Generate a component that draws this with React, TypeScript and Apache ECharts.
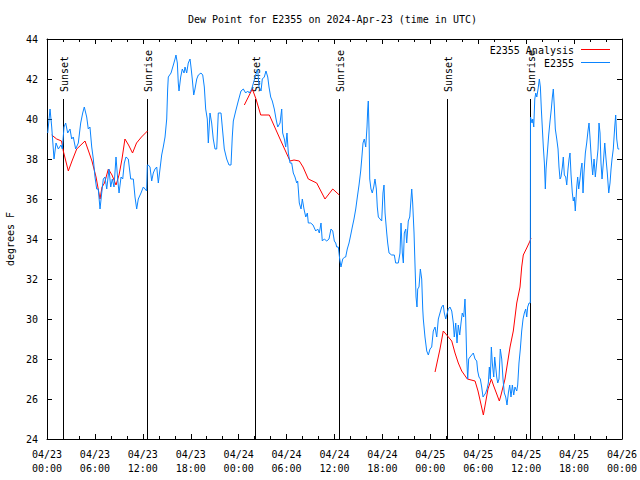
import React, { useEffect, useRef } from "react";
import * as echarts from "echarts";

const TITLE = "Dew Point for E2355 on 2024-Apr-23 (time in UTC)";
const Y_NAME = "degrees F";
const X_MIN = 0; // hours since 04/23 00:00 UTC
const X_MAX = 72;
const X_STEP = 6;
const Y_MIN = 24;
const Y_MAX = 44;
const Y_STEP = 2;

const sunHours = [2.04, 12.56, 26.08, 36.6, 50.1, 60.5];
const sunLabels = ["Sunset", "Sunrise", "Sunset", "Sunrise", "Sunset", "Sunrise"];
const sunLineTop = 41;

const analysisSeg1: [number, number][] = [
  [0.59, 39.2], [1.21, 39.0], [1.82, 38.9], [2.04, 38.4], [2.67, 37.4], [3.13, 37.9],
  [3.72, 38.5], [4.76, 38.9], [5.2, 38.4], [5.63, 37.9], [6.14, 37.1], [6.64, 36.0],
  [6.89, 36.6], [7.2, 36.8], [7.68, 37.5], [8.14, 37.2], [8.64, 36.7], [9.02, 37.2],
  [9.39, 38.0], [9.76, 39.0], [10.21, 38.7], [10.71, 38.3], [11.21, 38.8], [11.83, 39.1],
  [12.58, 39.4],
];
const analysisSeg2: [number, number][] = [
  [24.71, 40.7], [25.71, 41.5], [26.17, 41.0], [26.76, 40.2], [27.84, 40.2], [29.18, 39.0],
  [30.43, 37.9], [30.93, 37.95], [31.59, 37.9], [32.06, 37.6], [32.72, 37.0], [33.77, 36.8],
  [34.81, 36.0], [35.78, 36.5], [36.6, 36.2],
];
const analysisSeg3: [number, number][] = [
  [48.59, 27.35], [49.21, 28.5], [49.62, 29.4], [50.05, 29.2], [50.68, 28.9], [51.09, 28.3],
  [51.5, 27.8], [51.93, 27.4], [52.63, 27.0], [53.6, 26.9], [53.97, 26.4], [54.64, 25.2],
  [55.22, 26.5], [55.64, 27.0], [55.89, 26.7], [56.64, 25.9], [56.85, 26.2], [57.35, 27.0],
  [57.98, 28.6], [58.39, 29.4], [58.82, 30.8], [59.23, 31.6], [59.44, 32.6], [59.64, 33.2],
  [60.07, 33.55], [60.48, 33.9], [60.61, 34.05],
];

const observed: [number, number][] = [
  [0.09, 39.3], [0.38, 40.5], [0.59, 39.6], [0.88, 38.0], [1.13, 38.8], [1.42, 38.5],
  [1.75, 38.7], [1.92, 38.5], [2.13, 39.6], [2.34, 39.8], [2.59, 39.3], [2.88, 39.5],
  [3.09, 39.0], [3.29, 39.1], [3.59, 38.5], [3.92, 38.8], [4.22, 39.8], [4.47, 40.3],
  [4.67, 40.6], [4.97, 40.1], [5.17, 39.5], [5.38, 39.6], [5.6, 38.6], [5.8, 38.0],
  [6.01, 37.1], [6.22, 36.5], [6.42, 36.5], [6.64, 35.5], [6.85, 36.3], [7.05, 37.0],
  [7.26, 37.1], [7.48, 36.5], [7.76, 37.5], [7.98, 36.6], [8.18, 37.0], [8.39, 36.6],
  [8.64, 38.1], [8.85, 37.0], [9.02, 36.3], [9.27, 37.1], [9.48, 37.0], [9.68, 37.8],
  [9.89, 38.1], [10.18, 38.0], [10.48, 37.0], [10.81, 37.0], [11.02, 36.1], [11.23, 35.5],
  [11.43, 36.0], [11.77, 36.3], [12.06, 36.6], [12.27, 36.5], [12.48, 36.4], [12.56, 37.7],
  [12.68, 37.7], [12.9, 37.6], [13.11, 36.9], [13.31, 37.3], [13.52, 37.5], [13.74, 37.6],
  [13.94, 36.8], [14.15, 37.5], [14.36, 38.2], [14.56, 38.6], [14.78, 39.1], [14.99, 40.0],
  [15.11, 41.5], [15.19, 42.1], [15.53, 42.3], [15.82, 42.7], [16.03, 43.0], [16.15, 43.2],
  [16.32, 42.8], [16.44, 41.8], [16.53, 41.4], [16.74, 42.1], [16.94, 42.5], [17.16, 42.3],
  [17.28, 42.6], [17.49, 42.3], [17.69, 42.8], [17.91, 43.0], [18.03, 42.6], [18.19, 42.0],
  [18.37, 41.2], [18.53, 41.5], [18.75, 42.0], [18.95, 42.2], [19.28, 42.3], [19.5, 42.2],
  [19.7, 41.6], [19.87, 40.5], [20.07, 40.0], [20.2, 38.8], [20.41, 40.3], [20.62, 39.8],
  [20.82, 39.0], [21.04, 38.5], [21.25, 38.5], [21.45, 40.3], [21.79, 40.3], [21.95, 39.6],
  [22.2, 38.5], [22.5, 38.0], [22.79, 37.7], [23.04, 37.7], [23.2, 39.1], [23.33, 39.9],
  [23.63, 40.4], [23.95, 40.9], [24.29, 41.4], [24.58, 41.5], [24.88, 41.3], [25.13, 41.4],
  [25.33, 41.3], [25.63, 41.5], [25.92, 41.9], [26.13, 42.2], [26.38, 42.5], [26.55, 41.6],
  [26.8, 41.4], [26.96, 42.0], [27.21, 42.1], [27.42, 42.4], [27.64, 42.1], [27.8, 41.6],
  [28.01, 41.1], [28.21, 40.9], [28.46, 40.5], [28.68, 40.0], [28.89, 39.6], [29.18, 39.8],
  [29.39, 40.5], [29.51, 39.3], [29.72, 39.0], [29.89, 38.6], [30.05, 39.3], [30.22, 38.3],
  [30.43, 37.8], [30.64, 37.8], [30.84, 37.3], [31.05, 37.1], [31.27, 36.8], [31.39, 36.9],
  [31.47, 36.5], [31.59, 35.8], [31.81, 35.5], [31.97, 36.0], [32.18, 35.5], [32.4, 35.1],
  [32.6, 35.3], [32.72, 34.8], [33.02, 34.8], [33.31, 34.7], [33.65, 34.4], [33.9, 34.5],
  [34.1, 34.3], [34.31, 34.8], [34.47, 33.9], [34.72, 34.0], [35.03, 33.9], [35.31, 34.0],
  [35.56, 34.5], [35.78, 34.4], [35.98, 33.9], [36.15, 33.8], [36.28, 33.6], [36.48, 33.6],
  [36.65, 33.0], [36.81, 32.6], [37.03, 33.0], [37.28, 33.1], [37.4, 33.1], [37.6, 33.5],
  [37.82, 33.8], [38.03, 34.2], [38.23, 34.6], [38.44, 35.0], [38.66, 35.5], [38.86, 36.1],
  [39.07, 36.7], [39.28, 37.4], [39.41, 38.0], [39.57, 38.8], [39.73, 39.0], [39.91, 38.6],
  [40.07, 39.6], [40.16, 40.5], [40.23, 40.9], [40.32, 39.5], [40.41, 37.0], [40.57, 36.5],
  [40.73, 36.3], [40.91, 36.6], [41.07, 37.0], [41.24, 36.5], [41.36, 35.6], [41.49, 35.1],
  [41.7, 35.0], [41.91, 34.9], [42.07, 36.3], [42.2, 36.7], [42.33, 35.3], [42.54, 34.3],
  [42.66, 33.8], [42.83, 33.3], [43.16, 33.2], [43.49, 33.2], [43.66, 32.8], [43.99, 32.8],
  [44.2, 33.3], [44.33, 34.8], [44.49, 33.3], [44.62, 32.8], [44.74, 34.3], [44.92, 34.5],
  [45.04, 33.8], [45.24, 34.9], [45.42, 35.1], [45.58, 36.0], [45.67, 36.5], [45.79, 35.8],
  [45.96, 34.3], [46.08, 32.7], [46.21, 31.1], [46.33, 30.6], [46.42, 31.5], [46.58, 31.6],
  [46.75, 32.5], [46.92, 32.0], [47.05, 30.5], [47.12, 30.0], [47.33, 29.1], [47.55, 28.4],
  [47.75, 28.2], [47.96, 28.5], [48.17, 28.6], [48.37, 29.4], [48.59, 29.6], [48.8, 29.1],
  [49.0, 30.0], [49.21, 30.3], [49.42, 30.6], [49.62, 30.7], [49.75, 30.3], [49.93, 30.0],
  [50.05, 30.2], [50.25, 30.5], [50.46, 30.6], [50.68, 30.4], [50.88, 29.8], [51.0, 29.1],
  [51.18, 29.8], [51.34, 28.8], [51.5, 29.7], [51.68, 29.2], [51.84, 29.8], [52.0, 30.3],
  [52.18, 30.1], [52.34, 31.0], [52.43, 30.0], [52.55, 28.1], [52.68, 27.0], [52.8, 28.0],
  [52.97, 28.1], [53.18, 28.2], [53.38, 28.3], [53.6, 28.0], [53.81, 27.9], [53.93, 27.4],
  [54.09, 27.1], [54.26, 27.0], [54.43, 26.6], [54.6, 26.1], [54.76, 26.2], [54.93, 26.3],
  [55.1, 26.5], [55.26, 26.8], [55.39, 27.6], [55.51, 27.0], [55.64, 28.6], [55.76, 27.8],
  [55.94, 27.1], [56.06, 28.1], [56.19, 27.6], [56.31, 27.1], [56.44, 26.8], [56.6, 27.0],
  [56.76, 28.5], [56.94, 28.0], [57.1, 27.0], [57.26, 26.3], [57.44, 26.1], [57.6, 25.7],
  [57.77, 26.3], [57.94, 26.7], [58.1, 26.1], [58.27, 26.7], [58.44, 26.2], [58.6, 26.6],
  [58.82, 26.4], [58.94, 26.7], [59.1, 27.8], [59.27, 28.5], [59.44, 29.4], [59.61, 30.0],
  [59.77, 30.3], [59.94, 30.5], [60.07, 30.1], [60.19, 30.6], [60.36, 30.8], [60.52, 30.8],
  [60.54, 40.1], [60.74, 39.8], [60.83, 40.0], [60.95, 39.6], [61.08, 41.0], [61.2, 41.3],
  [61.33, 41.1], [61.49, 41.5], [61.65, 42.0], [61.78, 41.6], [61.9, 40.5], [62.03, 39.5],
  [62.15, 38.6], [62.28, 37.8], [62.4, 36.5], [62.49, 37.5], [62.65, 38.3], [62.82, 39.2],
  [62.99, 39.9], [63.15, 40.5], [63.28, 41.1], [63.4, 41.5], [63.53, 40.6], [63.65, 39.5],
  [63.83, 39.0], [63.99, 38.5], [64.11, 37.6], [64.24, 37.0], [64.36, 37.1], [64.53, 37.6],
  [64.65, 38.1], [64.78, 37.2], [64.95, 37.1], [65.08, 36.7], [65.24, 37.5], [65.37, 38.0],
  [65.49, 38.3], [65.62, 37.2], [65.78, 36.3], [65.9, 35.9], [66.03, 36.1], [66.15, 35.4],
  [66.33, 36.6], [66.45, 37.1], [66.58, 36.5], [66.74, 37.0], [66.87, 37.5], [66.99, 37.8],
  [67.12, 36.3], [67.24, 37.3], [67.41, 38.3], [67.58, 38.8], [67.74, 39.4], [67.87, 39.8],
  [67.99, 39.1], [68.16, 38.0], [68.33, 37.2], [68.5, 38.0], [68.66, 37.1], [68.83, 37.8],
  [69.0, 38.5], [69.12, 39.8], [69.25, 39.3], [69.37, 37.8], [69.5, 37.0], [69.66, 37.8],
  [69.84, 38.8], [70.0, 38.0], [70.16, 37.3], [70.34, 36.3], [70.5, 36.8], [70.63, 37.5],
  [70.75, 38.0], [70.91, 38.5], [71.09, 39.6], [71.21, 40.2], [71.34, 39.0], [71.5, 38.5],
  [71.66, 38.5],
];

const LEGEND_ANALYSIS = "E2355 Analysis";
const LEGEND_OBS = "E2355";
const RED = "#ff0000";
const BLUE = "#0a84ff";
const FONT = '"DejaVu Sans Mono", "Liberation Mono", monospace';

function fmtHour(v: number): string {
  const day = 23 + Math.floor(v / 24);
  const hh = Math.round(v % 24);
  return "04/" + String(day).padStart(2, "0") + "\n" + String(hh).padStart(2, "0") + ":00";
}

export default function App() {
  const ref = useRef<HTMLDivElement>(null);
  useEffect(() => {
    if (!ref.current) return;
    const chart = echarts.init(ref.current, undefined, { renderer: "svg" });
    const analysisData: any[] = [
      ...analysisSeg1,
      [18, null],
      ...analysisSeg2,
      [42, null],
      ...analysisSeg3,
    ];
    const sunData = sunHours.map((h) => [h, sunLineTop]);
    const axisCommon = {
      axisLine: { show: true, onZero: false, lineStyle: { color: "#000", width: 1 } },
      splitLine: { show: false },
    };
    const option: any = {
      animation: false,
      backgroundColor: "#fff",
      textStyle: { fontFamily: FONT },
      title: {
        text: TITLE,
        left: 183,
        top: 9,
        textStyle: { fontFamily: FONT, fontSize: 10, fontWeight: "normal", color: "#000" },
      },
      grid: {
        left: 47,
        right: 18,
        top: 39,
        bottom: 41,
        containLabel: false,
        outerBoundsMode: "none",
      },
      xAxis: [
        {
          type: "value",
          min: X_MIN,
          max: X_MAX,
          interval: X_STEP,
          ...axisCommon,
          axisTick: { show: true, inside: true, length: 5, lineStyle: { color: "#000" } },
          minorTick: { show: true, splitNumber: 3, length: 3, lineStyle: { color: "#000" } },
          axisLabel: {
            formatter: fmtHour,
            color: "#000",
            fontFamily: FONT,
            fontSize: 10,
            lineHeight: 14,
            margin: 8,
            showMinLabel: true,
            showMaxLabel: true,
          },
        },
        {
          type: "value",
          position: "top",
          min: X_MIN,
          max: X_MAX,
          interval: X_STEP,
          ...axisCommon,
          axisTick: { show: true, inside: true, length: 5, lineStyle: { color: "#000" } },
          minorTick: { show: true, splitNumber: 3, length: 3, lineStyle: { color: "#000" } },
          axisLabel: { show: false },
        },
      ],
      yAxis: [
        {
          type: "value",
          min: Y_MIN,
          max: Y_MAX,
          interval: Y_STEP,
          ...axisCommon,
          name: Y_NAME,
          nameLocation: "middle",
          nameRotate: 90,
          nameGap: 32,
          nameTextStyle: { fontFamily: FONT, fontSize: 10, color: "#000" },
          axisTick: { show: true, inside: true, length: 5, lineStyle: { color: "#000" } },
          axisLabel: { color: "#000", fontFamily: FONT, fontSize: 10, margin: 9 },
        },
        {
          type: "value",
          position: "right",
          min: Y_MIN,
          max: Y_MAX,
          interval: Y_STEP,
          ...axisCommon,
          axisTick: { show: true, inside: true, length: 5, lineStyle: { color: "#000" } },
          axisLabel: { show: false },
        },
      ],
      series: [
        {
          type: "custom",
          name: "sun",
          xAxisIndex: 0,
          yAxisIndex: 0,
          data: sunData,
          silent: true,
          z: 1,
          renderItem: (params: any, api: any) => {
            const h = api.value(0);
            const top = api.coord([h, api.value(1)]);
            const bottom = api.coord([h, Y_MIN]);
            const x = Math.round(top[0]) + 0.5;
            return {
              type: "group",
              children: [
                {
                  type: "line",
                  shape: { x1: x, y1: top[1], x2: x, y2: bottom[1] },
                  style: { stroke: "#000", lineWidth: 1 },
                },
                {
                  type: "text",
                  x: x + 1,
                  y: top[1] - 7,
                  rotation: Math.PI / 2,
                  style: {
                    text: sunLabels[params.dataIndex],
                    font: "10px " + FONT,
                    fill: "#000",
                    align: "left",
                    textAlign: "left",
                    verticalAlign: "middle",
                    textVerticalAlign: "middle",
                  },
                },
              ],
            };
          },
        },
        {
          type: "line",
          name: LEGEND_ANALYSIS,
          data: analysisData,
          showSymbol: false,
          connectNulls: false,
          lineStyle: { color: RED, width: 1 },
          itemStyle: { color: RED },
          z: 2,
        },
        {
          type: "line",
          name: LEGEND_OBS,
          data: observed,
          showSymbol: false,
          lineStyle: { color: BLUE, width: 1 },
          itemStyle: { color: BLUE },
          z: 3,
        },
      ],
      graphic: [
        {
          type: "text",
          right: 66,
          top: 45,
          style: { text: LEGEND_ANALYSIS, font: "10px " + FONT, fill: "#000" },
          z: 10,
        },
        {
          type: "line",
          shape: { x1: 581, y1: 49.5, x2: 610, y2: 49.5 },
          style: { stroke: RED, lineWidth: 1 },
          z: 10,
        },
        {
          type: "text",
          right: 66,
          top: 58,
          style: { text: LEGEND_OBS, font: "10px " + FONT, fill: "#000" },
          z: 10,
        },
        {
          type: "line",
          shape: { x1: 581, y1: 62.5, x2: 610, y2: 62.5 },
          style: { stroke: BLUE, lineWidth: 1 },
          z: 10,
        },
      ],
    };
    chart.setOption(option);
    return () => chart.dispose();
  }, []);
  return (
    <div
      ref={ref}
      style={{ position: "fixed", left: 0, top: 0, width: 640, height: 480, background: "#fff" }}
    />
  );
}
